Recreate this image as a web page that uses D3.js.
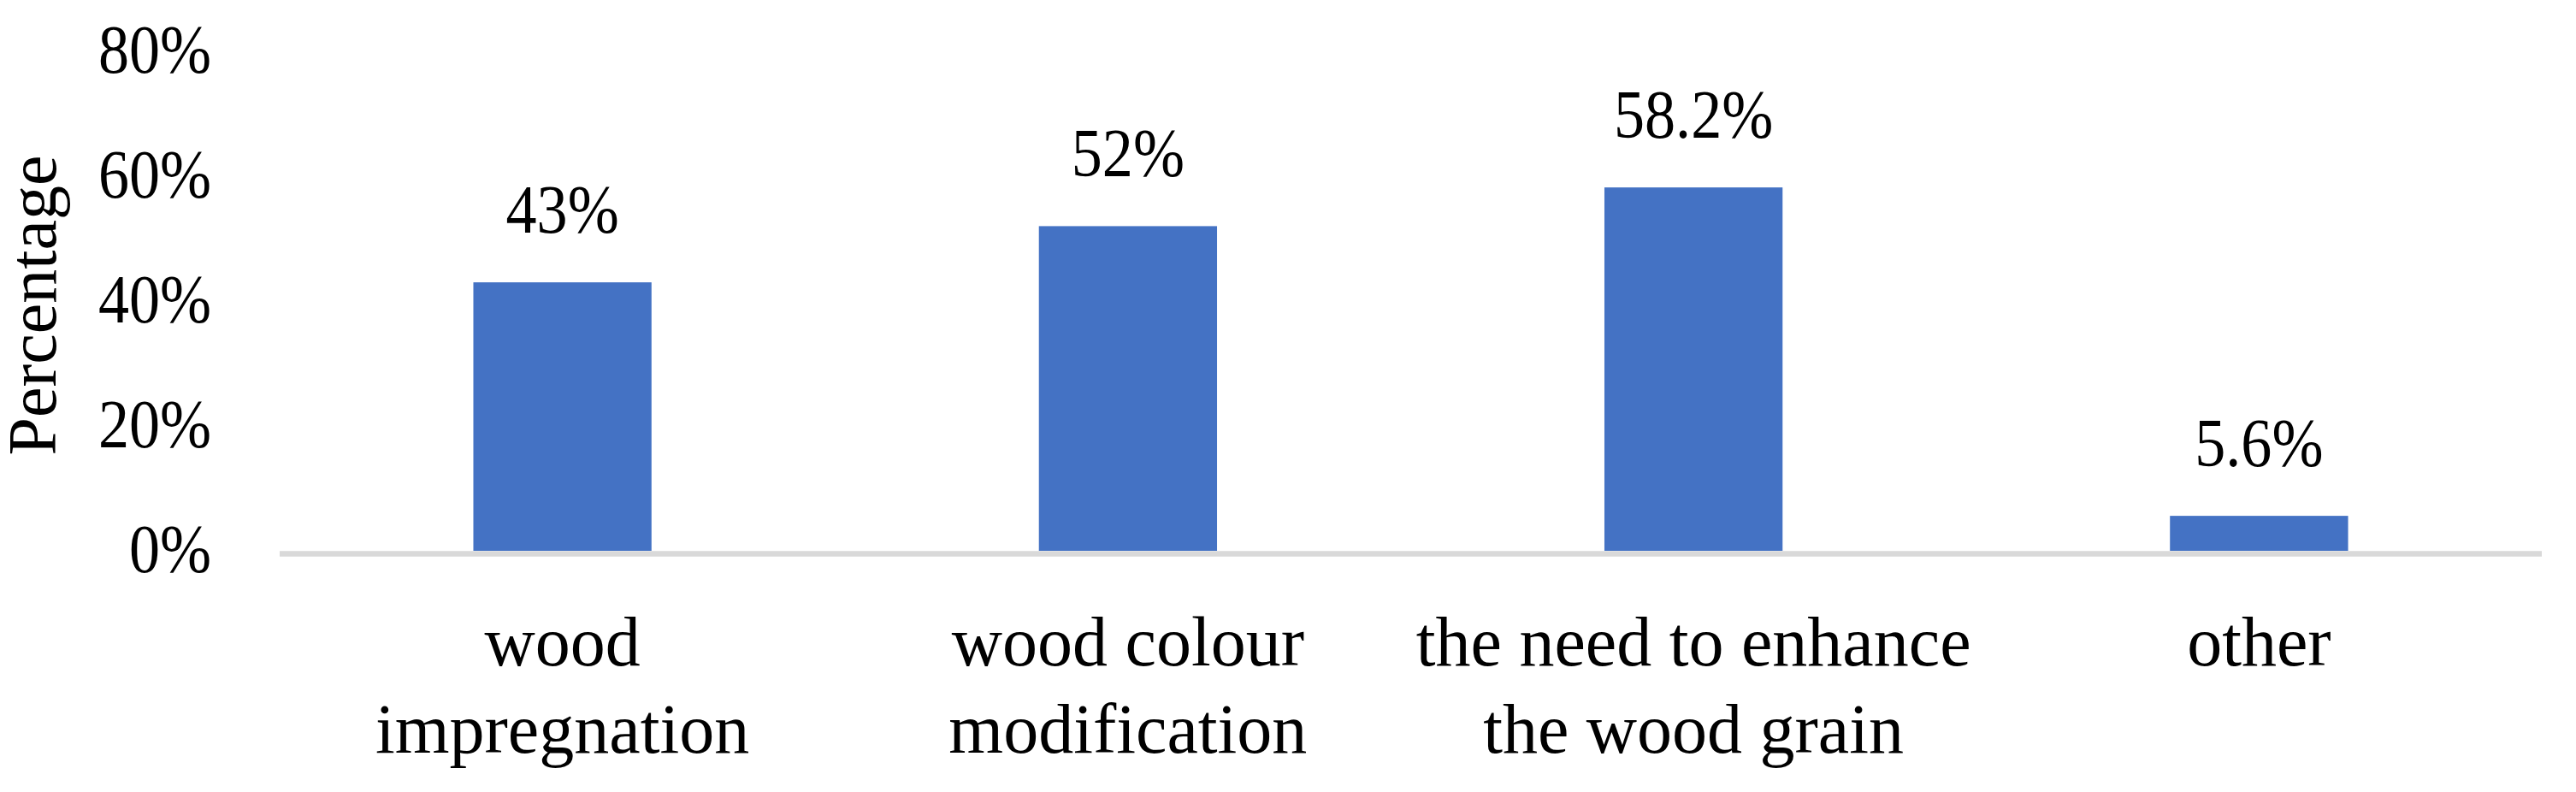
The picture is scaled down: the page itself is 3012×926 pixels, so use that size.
<!DOCTYPE html>
<html>
<head>
<meta charset="utf-8">
<script src="https://cdn.jsdelivr.net/npm/d3@7"></script>
<style>
  body { margin: 0; background: #fff; }
  svg { display: block; }
</style>
</head>
<body>
<div id="bar-chart"></div>
<script>
const categories = [
  "wood\nimpregnation",
  "wood colour\nmodification",
  "the need to enhance\nthe wood grain",
  "other"
];
const values = [43, 52, 58.2, 5.6];
const valueLabels = ["43%", "52%", "58.2%", "5.6%"];
const yTicks = [0, 20, 40, 60, 80];

const drawBarChart = () => {
  const width = 3012;
  const height = 926;
  const font = "'Liberation Serif', 'Times New Roman', serif";
  // numbers in the original are a bit narrower than Liberation Serif
  const squeeze = 0.89;

  const svg = d3
    .select("#bar-chart")
    .append("svg")
    .attr("width", width)
    .attr("height", height);

  const x = d3
    .scaleBand()
    .domain(categories)
    .range([327, 2972])
    .paddingInner(0.685)
    .paddingOuter(0.3425);

  const y = d3.scaleLinear().domain([0, 80]).range([644, 60]);

  // bars
  svg
    .append("g")
    .selectAll("rect")
    .data(values)
    .join("rect")
    .attr("x", (d, i) => x(categories[i]))
    .attr("y", (d) => y(d))
    .attr("width", x.bandwidth())
    .attr("height", (d) => y(0) - y(d))
    .attr("fill", "#4472C4");

  // x axis line
  svg
    .append("line")
    .attr("x1", x.range()[0])
    .attr("x2", x.range()[1])
    .attr("y1", y(0) + 3.5)
    .attr("y2", y(0) + 3.5)
    .attr("stroke", "#d9d9d9")
    .attr("stroke-width", 6.5);

  // y axis
  const yAxis = svg
    .append("g")
    .attr("transform", `translate(${x.range()[0]},0)`)
    .call(
      d3
        .axisLeft(y)
        .tickValues(yTicks)
        .tickFormat((d) => d + "%")
        .tickSize(0)
    );
  yAxis.select(".domain").remove();
  yAxis
    .selectAll("text")
    .attr("x", -80 / squeeze)
    .attr("dy", "0.3em")
    .attr("transform", `scale(${squeeze},1)`)
    .attr("fill", "#000")
    .style("font-family", font)
    .style("font-size", "81px");

  // value labels
  svg
    .append("g")
    .selectAll("text")
    .data(values)
    .join("text")
    .attr(
      "transform",
      (d, i) =>
        `translate(${x(categories[i]) + x.bandwidth() / 2},${y(d) - 58}) scale(${squeeze},1)`
    )
    .attr("text-anchor", "middle")
    .style("font-family", font)
    .style("font-size", "81px")
    .text((d, i) => valueLabels[i]);

  // category labels
  const catLabels = svg
    .append("g")
    .selectAll("text")
    .data(categories)
    .join("text")
    .attr("x", (d) => x(d) + x.bandwidth() / 2)
    .attr("y", 778)
    .attr("text-anchor", "middle")
    .style("font-family", font)
    .style("font-size", "82px");

  catLabels
    .selectAll("tspan")
    .data((d) => d.split("\n"))
    .join("tspan")
    .attr("x", function () {
      return this.parentNode.getAttribute("x");
    })
    .attr("dy", (d, i) => (i === 0 ? 0 : 102))
    .text((d) => d);

  // y axis title
  svg
    .append("text")
    .attr("transform", `translate(65, ${(y(0) + y(80)) / 2 + 5}) rotate(-90)`)
    .attr("text-anchor", "middle")
    .style("font-family", font)
    .style("font-size", "80px")
    .text("Percentage");
};

drawBarChart();
</script>
</body>
</html>
